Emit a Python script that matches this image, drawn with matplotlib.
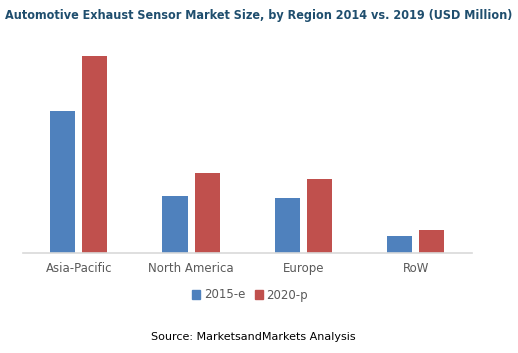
import matplotlib
matplotlib.use("Agg")
import matplotlib.pyplot as plt
from matplotlib.patches import Patch
import numpy as np

categories = ["Asia-Pacific", "North America", "Europe", "RoW"]
series_2015 = [142.3, 57.3, 55.0, 17.3]
series_2020 = [197.6, 80.0, 74.3, 23.0]
series_names = ["2015-e", "2020-p"]

W, H = 518, 353
fig = plt.figure(figsize=(W / 100, H / 100), dpi=100)
ax = fig.add_axes([22.7 / W, 1 - 253.3 / H, 449 / W, 210 / H])

x = np.arange(len(categories))
bw = 0.224
off = 0.143
blue = "#4F81BD"
red = "#C0504D"
ax.bar(x - off, series_2015, width=bw, color=blue)
ax.bar(x + off, series_2020, width=bw, color=red)

ax.set_xlim(-0.5, len(categories) - 0.5)
ax.set_ylim(0, 210)
for s in ["top", "right", "left"]:
    ax.spines[s].set_visible(False)
ax.spines["bottom"].set_color("#D9D9D9")
ax.spines["bottom"].set_linewidth(1.2)
ax.set_yticks([])
ax.set_xticks(x)
ax.set_xticklabels(categories, fontsize=8.5, color="#595959", family="DejaVu Sans")
ax.tick_params(axis="x", length=0, pad=6)

title = fig.text(259 / W, 1 - 16 / H,
                 "Automotive Exhaust Sensor Market Size, by Region 2014 vs. 2019 (USD Million)",
                 ha="center", va="center", fontsize=12, fontweight="bold",
                 color="#1F4E6E", family="DejaVu Sans", stretch="condensed")
fig.canvas.draw()
r = fig.canvas.get_renderer()
w = title.get_window_extent(r).width
title.set_fontsize(12 * 503 / w)

handles = [Patch(color=blue), Patch(color=red)]
fig.legend(handles, series_names, loc="center", bbox_to_anchor=(250 / W, 1 - 295 / H),
           ncol=2, frameon=False, fontsize=8.5, handlelength=0.7, handleheight=0.7,
           handletextpad=0.3, columnspacing=0.8, labelcolor="#595959")

fig.text(253 / W, 1 - 337 / H, "Source: MarketsandMarkets Analysis",
         ha="center", va="center", fontsize=8, color="#000000")

fig.savefig("out.png", dpi=100)
